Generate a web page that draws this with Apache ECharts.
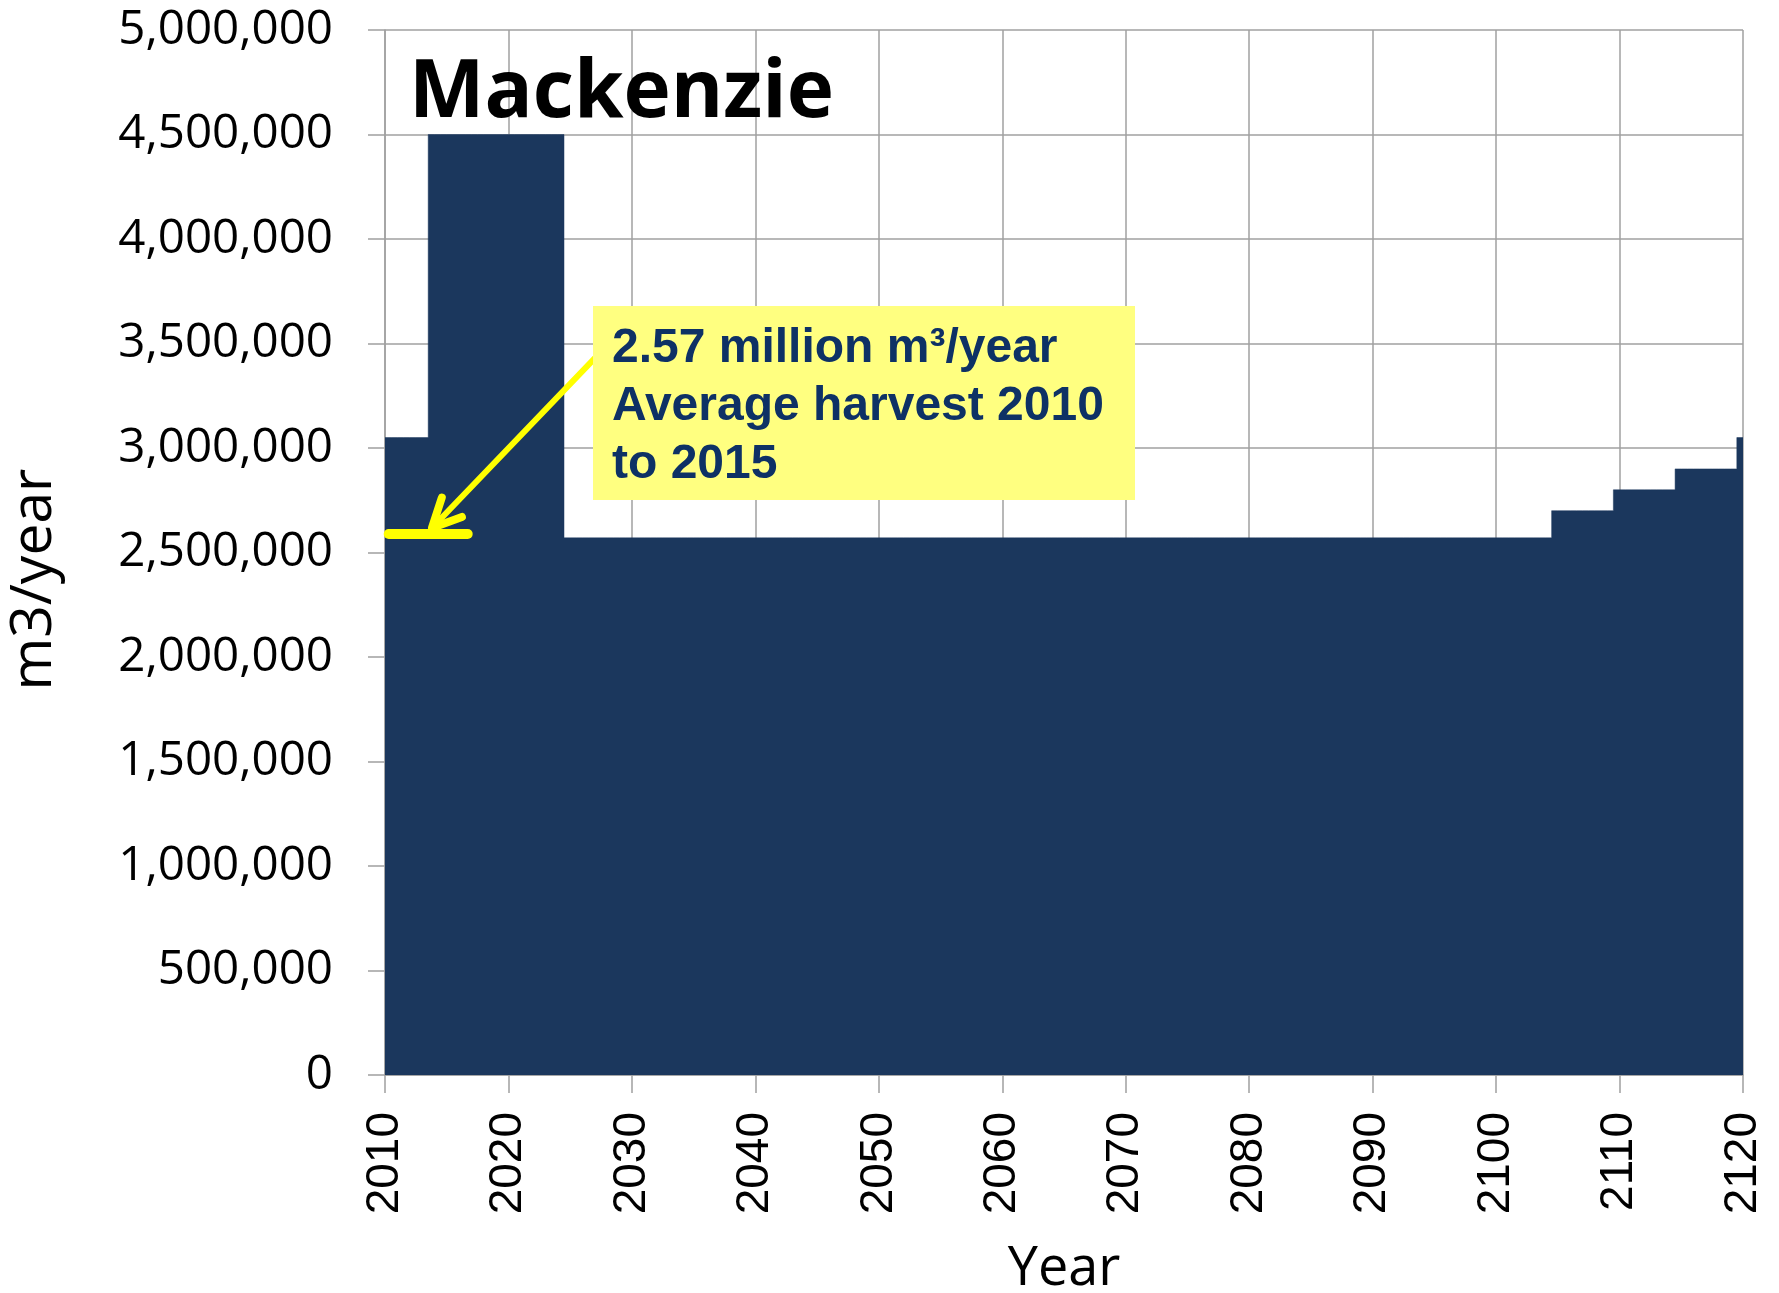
<!DOCTYPE html>
<html>
<head>
<meta charset="utf-8">
<script src="https://cdn.jsdelivr.net/npm/echarts@6/dist/echarts.min.js"></script>
<style>
  html, body { margin: 0; padding: 0; background: #ffffff; }
  #chart { width: 1779px; height: 1293px; }
</style>
</head>
<body>
<div id="chart"></div>
<script>
// ---- data ----
var titleText = 'Mackenzie';
var xAxisName = 'Year';
var yAxisName = 'm3/year';

var years = [
  2010,2011,2012,2013,2014,2015,2016,2017,2018,2019,
  2020,2021,2022,2023,2024,2025,2026,2027,2028,2029,
  2030,2031,2032,2033,2034,2035,2036,2037,2038,2039,
  2040,2041,2042,2043,2044,2045,2046,2047,2048,2049,
  2050,2051,2052,2053,2054,2055,2056,2057,2058,2059,
  2060,2061,2062,2063,2064,2065,2066,2067,2068,2069,
  2070,2071,2072,2073,2074,2075,2076,2077,2078,2079,
  2080,2081,2082,2083,2084,2085,2086,2087,2088,2089,
  2090,2091,2092,2093,2094,2095,2096,2097,2098,2099,
  2100,2101,2102,2103,2104,2105,2106,2107,2108,2109,
  2110,2111,2112,2113,2114,2115,2116,2117,2118,2119,
  2120
];

var harvest = [
  3050000,3050000,3050000,3050000,4500000,4500000,4500000,4500000,4500000,4500000,
  4500000,4500000,4500000,4500000,4500000,2570000,2570000,2570000,2570000,2570000,
  2570000,2570000,2570000,2570000,2570000,2570000,2570000,2570000,2570000,2570000,
  2570000,2570000,2570000,2570000,2570000,2570000,2570000,2570000,2570000,2570000,
  2570000,2570000,2570000,2570000,2570000,2570000,2570000,2570000,2570000,2570000,
  2570000,2570000,2570000,2570000,2570000,2570000,2570000,2570000,2570000,2570000,
  2570000,2570000,2570000,2570000,2570000,2570000,2570000,2570000,2570000,2570000,
  2570000,2570000,2570000,2570000,2570000,2570000,2570000,2570000,2570000,2570000,
  2570000,2570000,2570000,2570000,2570000,2570000,2570000,2570000,2570000,2570000,
  2570000,2570000,2570000,2570000,2570000,2700000,2700000,2700000,2700000,2700000,
  2800000,2800000,2800000,2800000,2800000,2900000,2900000,2900000,2900000,2900000,
  3050000
];

// annotation (average harvest marker and callout arrow), in data coordinates
var avgMarker = [[2010.3, 2590000], [2016.7, 2590000]];
var arrowFrom = [2027.0, 3430000];
var arrowTip  = [2013.8, 2617000];
var calloutLines = ['2.57 million m\u00B3/year', 'Average harvest 2010', 'to 2015'];

// ---- chart ----
var seriesData = years.map(function (y, i) { return [y, harvest[i]]; });

function fmtThousands(v) {
  return String(v).replace(/\B(?=(\d{3})+(?!\d))/g, ',');
}

var chart = echarts.init(document.getElementById('chart'), null, { renderer: 'canvas' });

var gridColor = '#A0A0A0';
var fill = '#1B375D';
var yellow = '#FFFF00';

chart.setOption({
  backgroundColor: '#ffffff',
  animation: false,
  title: {
    text: titleText,
    left: 404,
    top: 49,
    textStyle: { fontFamily: 'Open Sans', fontWeight: 'bold', fontSize: 80, color: '#000000' }
  },
  grid: { left: 385, right: 36, top: 30, bottom: 218, containLabel: false, outerBoundsMode: 'none' },
  xAxis: {
    type: 'value',
    min: 2010, max: 2120, interval: 10,
    name: xAxisName,
    nameLocation: 'middle',
    nameGap: 168,
    nameTextStyle: { fontFamily: 'Open Sans', fontSize: 54, color: '#000000' },
    axisLine: { show: true, lineStyle: { color: gridColor, width: 1.5 } },
    axisTick: { show: true, length: 18, lineStyle: { color: gridColor, width: 1.5 } },
    axisLabel: {
      rotate: 90, margin: 37,
      fontFamily: 'Liberation Sans', fontSize: 46, color: '#000000',
      formatter: function (v) { return String(v); }
    },
    splitLine: { show: true, lineStyle: { color: gridColor, width: 1.5 } }
  },
  yAxis: {
    type: 'value',
    min: 0, max: 5000000, interval: 500000,
    name: yAxisName,
    nameLocation: 'middle',
    nameGap: 322,
    nameTextStyle: { fontFamily: 'Open Sans', fontSize: 57, color: '#000000', padding: [0, 54, 0, 0] },
    axisLine: { show: true, lineStyle: { color: gridColor, width: 1.5 } },
    axisTick: { show: true, length: 17, lineStyle: { color: gridColor, width: 1.5 } },
    axisLabel: {
      margin: 52,
      fontFamily: 'Open Sans', fontSize: 47.5, color: '#000000',
      formatter: fmtThousands
    },
    splitLine: { show: true, lineStyle: { color: gridColor, width: 1.5 } }
  },
  series: [{
    type: 'line',
    step: 'middle',
    data: seriesData,
    symbol: 'none',
    lineStyle: { color: fill, width: 0.5 },
    areaStyle: { color: fill, opacity: 1 },
    z: 2,
    markLine: {
      silent: true,
      symbol: ['none', 'none'],
      label: { show: false },
      lineStyle: { color: yellow, width: 10, type: 'solid', cap: 'round' },
      data: [[{ coord: avgMarker[0] }, { coord: avgMarker[1] }]]
    }
  }]
});

// callout arrow + box, positioned from data coordinates
function drawAnnotations() {
  var p0 = chart.convertToPixel({ gridIndex: 0 }, arrowFrom);
  var p1 = chart.convertToPixel({ gridIndex: 0 }, arrowTip);
  var dx = p0[0] - p1[0], dy = p0[1] - p1[1];
  var len = Math.sqrt(dx * dx + dy * dy);
  var ux = dx / len, uy = dy / len;
  var headLen = 32, ang = 0.45;
  function rot(a) {
    return [p1[0] + headLen * (ux * Math.cos(a) - uy * Math.sin(a)),
            p1[1] + headLen * (ux * Math.sin(a) + uy * Math.cos(a))];
  }
  var h1 = rot(ang), h2 = rot(-ang);
  chart.setOption({
    graphic: [
      { type: 'line', z: 100, shape: { x1: p0[0], y1: p0[1], x2: p1[0], y2: p1[1] },
        style: { stroke: yellow, lineWidth: 6, lineCap: 'round' } },
      { type: 'polyline', z: 100, shape: { points: [h1, p1, h2] },
        style: { stroke: yellow, lineWidth: 8, lineCap: 'round', lineJoin: 'round', fill: null } },
      { type: 'rect', z: 101, shape: { x: 593, y: 306, width: 542, height: 194 },
        style: { fill: '#FFFF80' } },
      { type: 'text', z: 102, x: 612, y: 320,
        style: {
          text: calloutLines.join('\n'),
          font: 'bold 48px "Liberation Sans"',
          fill: '#0E3165',
          lineHeight: 58,
          verticalAlign: 'top'
        } }
    ]
  });
}
drawAnnotations();
</script>
</body>
</html>
